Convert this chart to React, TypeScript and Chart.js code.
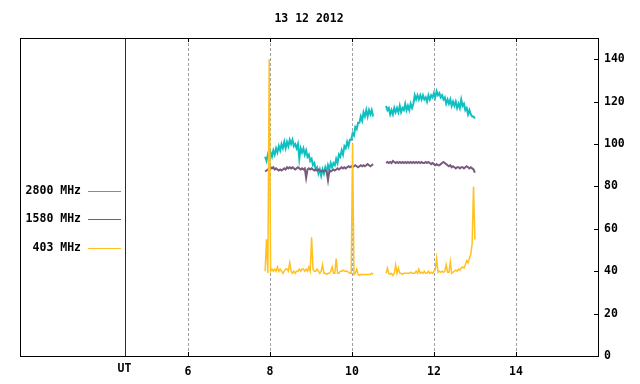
import React, { useEffect, useRef } from "react";
import { Chart, registerables } from "chart.js";

Chart.register(...registerables);

const TITLE = "13 12 2012";
const SERIES_NAMES = ["2800 MHz", "1580 MHz", "403 MHz"];
const SERIES_COLORS = ["#10c0c0", "#7a5a7c", "#ffc020"];
const X_TICKS = [6, 8, 10, 12, 14];
const Y_TICKS = [0, 20, 40, 60, 80, 100, 120, 140];
const X_MIN = 1.9;
const X_MAX = 16;
const Y_MIN = 0;
const Y_MAX = 150;
const UT_POS = 4.46;
const UT_LABEL = "UT";

// sampling (hours UT), one sample every 2 minutes
const SEG_A_START = 7.88;
const SEG_B_START = 10.83;
const STEP = 1 / 30;
const GAP_AT = 10.68;

// 2800 MHz
const f2800A = [
  94, 92, 95, 93, 96, 94, 97, 95, 98, 96,
  99, 97, 100, 98, 101, 98, 101, 99, 102, 100,
  102, 99, 100, 98, 100, 93, 98, 96, 98, 95,
  97, 94, 95, 92, 93, 90, 91, 88, 89, 86,
  88, 85, 88, 86, 89, 87, 90, 88, 91, 89,
  91, 90, 93, 91, 95, 94, 97, 95, 99, 98,
  101, 99, 102, 102, 105, 104, 108, 107, 110, 110,
  113, 111, 115, 113, 116, 113, 116, 114, 116, 113,
];
const f2800B = [
  118, 116, 117, 114, 116, 114, 117, 115, 117, 115,
  118, 115, 117, 116, 119, 116, 118, 116, 119, 117,
  119, 123, 121, 123, 121, 123, 121, 123, 121, 122,
  120, 123, 121, 123, 122, 124, 122, 125, 123, 124,
  122, 123, 121, 122, 119, 121, 119, 121, 118, 120,
  118, 120, 117, 119, 117, 121, 118, 119, 116, 117,
  114, 116, 114, 113, 113, 112,
];

// 1580 MHz
const f1580A = [
  87, 87.5, 88, 88.5, 89, 88.5, 89, 88, 88.5, 88,
  87.5, 88, 87.5, 88, 88.5, 88, 89, 88.5, 89, 88.5,
  89, 88.5, 88, 88.5, 89, 88.5, 88, 88.5, 88, 88.5,
  84, 88, 88.5, 88, 88.5, 88, 87.5, 88, 87.5, 88,
  87.5, 87, 87.5, 87, 87.5, 87, 83, 87.5, 87, 87.5,
  88, 87.5, 88, 88.5, 88, 88.5, 89, 88.5, 89, 88.5,
  89, 89.5, 89, 89.5, 89, 89.5, 90, 89.5, 89, 89.5,
  90, 89.5, 90, 89.5, 90, 90.5, 90, 89.5, 90, 90.5,
];
const f1580B = [
  91, 91.5, 91, 91.5, 91, 92, 91.5, 91, 91.5, 91,
  91.5, 91, 91.5, 91, 91.5, 91, 91.5, 91, 91.5, 91,
  91.5, 91, 91.5, 91, 91.5, 91, 91.5, 91, 91, 91.5,
  91, 91.5, 91, 90.5, 91, 90.5, 90, 90.5, 90, 90,
  90.5, 91, 91.5, 91, 90.5, 90, 89.5, 90, 89, 89.5,
  89, 88.5, 89, 89, 88.5, 89, 89, 88.5, 89, 89.5,
  89, 88.5, 89, 88.5, 88, 86.5,
];

// 403 MHz
const f403A = [
  40, 55, 39, 140, 40, 41, 40, 41, 40, 42,
  40, 41, 40, 39, 40, 41, 41, 40, 44, 40,
  39, 40, 39, 40, 40, 41, 40, 41, 41, 40,
  41, 40, 42, 40, 56, 41, 40, 40, 41, 40,
  39, 40, 43, 39, 39, 38.5, 39, 39, 40, 42,
  39, 39, 46, 39, 39, 40, 40, 40.5, 40, 40,
  40, 39.5, 39, 39, 100, 38.5, 39, 41, 38.5, 38,
  38.5, 38.5, 38.5, 38.5, 38.5, 38.5, 38.5, 38.5, 39, 38.5,
];
const f403B = [
  39, 41.5, 39, 38.5, 39, 38, 39, 43, 39, 41.5,
  39, 39, 38.5, 39, 39, 39, 39, 39, 39.5, 39,
  39, 39, 40, 39, 41, 39, 39.5, 39, 40, 39,
  39, 40, 39, 39.5, 39, 40, 40.5, 46, 39.5, 40,
  39.5, 40, 39.5, 40, 43, 39.5, 39.5, 44.5, 39, 39.5,
  40, 40.5, 40, 41, 40.5, 41.5, 42, 41.5, 43, 45,
  44, 46, 48, 53, 80, 55,
];

function toPoints(a: number[], b: number[]) {
  const pts: { x: number; y: number | null }[] = [];
  a.forEach((v, i) => pts.push({ x: SEG_A_START + i * STEP, y: v }));
  pts.push({ x: GAP_AT, y: null });
  b.forEach((v, i) => pts.push({ x: SEG_B_START + i * STEP, y: v }));
  return pts;
}

const FONT_FAMILY = "'DejaVu Sans Mono', 'Liberation Mono', monospace";
const FONT_SIZE = 11.5;

const decoPlugin = {
  id: "deco",
  afterDraw(chart: any) {
    const { ctx, chartArea, scales } = chart;
    const { left, right, top, bottom } = chartArea;
    const x = scales.x;
    const y = scales.y;
    ctx.save();
    // UT separator line
    const ux = Math.round(x.getPixelForValue(UT_POS)) + 0.5;
    ctx.strokeStyle = "#8b0000";
    ctx.lineWidth = 1;
    ctx.beginPath();
    ctx.moveTo(ux, top);
    ctx.lineTo(ux, bottom);
    ctx.stroke();
    // frame
    ctx.strokeStyle = "#000";
    ctx.strokeRect(left + 0.5, top + 0.5, right - left, bottom - top);
    // inward tick marks
    ctx.beginPath();
    X_TICKS.forEach((v) => {
      const px = Math.round(x.getPixelForValue(v)) + 0.5;
      ctx.moveTo(px, bottom);
      ctx.lineTo(px, bottom - 4);
      ctx.moveTo(px, top);
      ctx.lineTo(px, top + 4);
    });
    Y_TICKS.forEach((v) => {
      const py = Math.round(y.getPixelForValue(v)) + 0.5;
      ctx.moveTo(right, py);
      ctx.lineTo(right - 4, py);
    });
    ctx.stroke();
    // texts
    ctx.fillStyle = "#000";
    ctx.font = `bold ${FONT_SIZE}px ${FONT_FAMILY}`;
    ctx.textBaseline = "middle";
    ctx.textAlign = "center";
    ctx.fillText(TITLE, (left + right) / 2, 19);
    ctx.fillText(UT_LABEL, ux - 1, 369);
    // legend
    const rows = [191, 219, 248];
    SERIES_NAMES.forEach((name, i) => {
      ctx.textAlign = "right";
      ctx.fillStyle = "#000";
      ctx.fillText(name, 81, rows[i]);
      ctx.strokeStyle = SERIES_COLORS[i];
      ctx.beginPath();
      ctx.moveTo(88, rows[i] + 0.5);
      ctx.lineTo(121, rows[i] + 0.5);
      ctx.stroke();
    });
    ctx.restore();
  },
};

export default function App() {
  const ref = useRef<HTMLCanvasElement | null>(null);
  useEffect(() => {
    if (!ref.current) return;
    const chart = new Chart(ref.current, {
      type: "line",
      data: {
        datasets: [
          {
            label: SERIES_NAMES[2],
            data: toPoints(f403A, f403B),
            borderColor: SERIES_COLORS[2],
            borderWidth: 1.5,
            pointRadius: 0,
            spanGaps: false,
          },
          {
            label: SERIES_NAMES[1],
            data: toPoints(f1580A, f1580B),
            borderColor: SERIES_COLORS[1],
            borderWidth: 2,
            pointRadius: 0,
            spanGaps: false,
          },
          {
            label: SERIES_NAMES[0],
            data: toPoints(f2800A, f2800B),
            borderColor: SERIES_COLORS[0],
            borderWidth: 2,
            pointRadius: 0,
            spanGaps: false,
          },
        ],
      },
      options: {
        responsive: false,
        animation: false,
        devicePixelRatio: 1,
        layout: { padding: { left: 20, top: 38, right: 0, bottom: 0 } },
        plugins: {
          legend: { display: false },
          tooltip: { enabled: false },
          title: { display: false },
        },
        scales: {
          x: {
            type: "linear",
            min: X_MIN,
            max: X_MAX,
            afterBuildTicks: (s: any) => {
              s.ticks = X_TICKS.map((v) => ({ value: v }));
            },
            afterFit: (s: any) => {
              s.height = 28;
            },
            grid: { color: "#a0a0a0", lineWidth: 1, drawTicks: false },
            border: { display: false, dash: [3, 2] },
            ticks: {
              color: "#000",
              padding: 9,
              maxRotation: 0,
              autoSkip: false,
              font: { family: FONT_FAMILY, size: FONT_SIZE, weight: "bold" },
              callback: (v: any) => String(v),
            },
          },
          y: {
            type: "linear",
            position: "right",
            min: Y_MIN,
            max: Y_MAX,
            afterBuildTicks: (s: any) => {
              s.ticks = Y_TICKS.map((v) => ({ value: v }));
            },
            afterFit: (s: any) => {
              s.width = 42;
            },
            grid: { display: false, drawTicks: false },
            border: { display: false },
            ticks: {
              color: "#000",
              padding: 6,
              font: { family: FONT_FAMILY, size: FONT_SIZE, weight: "bold" },
              callback: (v: any) => String(v),
            },
          },
        },
      },
      plugins: [decoPlugin],
    });
    return () => chart.destroy();
  }, []);
  return (
    <div style={{ position: "absolute", left: 0, top: 0, width: 640, height: 384, background: "#fff" }}>
      <canvas ref={ref} width={640} height={384} style={{ display: "block" }} />
    </div>
  );
}
